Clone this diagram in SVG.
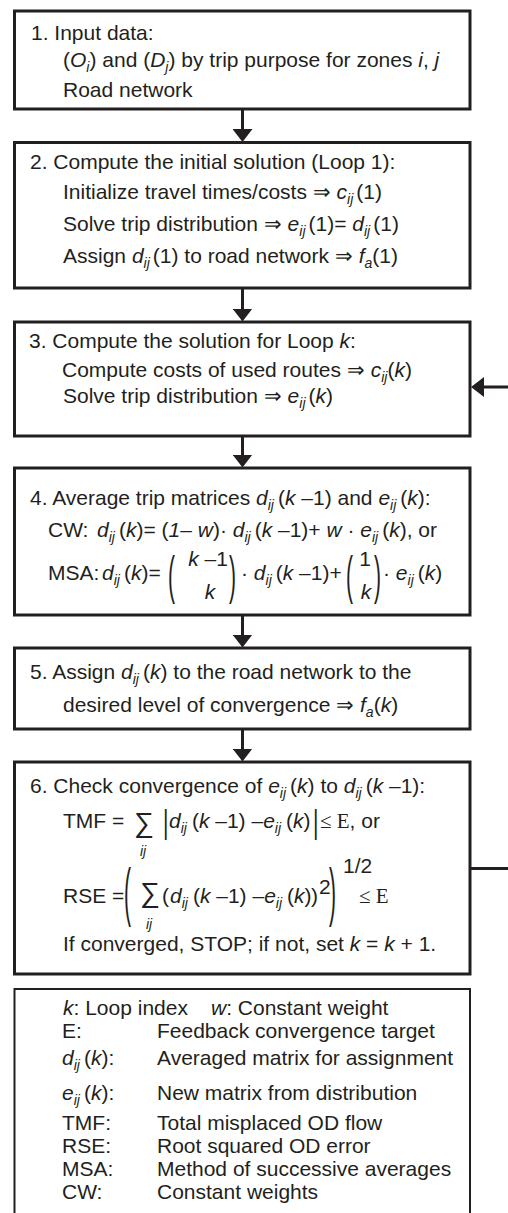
<svg xmlns="http://www.w3.org/2000/svg" width="508" height="1213" viewBox="0 0 508 1213">
<style>
.t{font-family:"Liberation Sans",Arial,sans-serif;font-size:21px;fill:#231f20}
.i{font-style:italic}
.s{font-size:14px;font-style:italic}
.sr{font-family:"Liberation Serif","Times New Roman",serif}
.sg{font-size:28px}
.box{fill:#fff;stroke:#231f20;stroke-width:3}
.leg{fill:#fff;stroke:#231f20;stroke-width:2}
.con{stroke:#231f20;stroke-width:3;fill:none}
</style>
<defs>
<marker id="ah" viewBox="0 0 13 20" refX="7" refY="10" markerWidth="13" markerHeight="20" markerUnits="userSpaceOnUse" orient="auto">
<path d="M0,0 L13,10 L0,20 Z" fill="#231f20"/>
</marker>
</defs>
<rect width="508" height="1213" fill="#fff"/>

<g id="connectors">
<line class="con" x1="242.5" y1="109" x2="242.5" y2="136" marker-end="url(#ah)"/>
<line class="con" x1="242.5" y1="288" x2="242.5" y2="315.5" marker-end="url(#ah)"/>
<line class="con" x1="242.5" y1="436" x2="242.5" y2="461.5" marker-end="url(#ah)"/>
<line class="con" x1="242.5" y1="615" x2="242.5" y2="641.5" marker-end="url(#ah)"/>
<line class="con" x1="242.5" y1="729" x2="242.5" y2="755.5" marker-end="url(#ah)"/>
<line class="con" x1="510" y1="387" x2="477" y2="387" marker-end="url(#ah)"/>
<line class="con" x1="470" y1="868.5" x2="510" y2="868.5"/>
</g>

<g id="node1">
<rect class="box" x="14.5" y="11" width="455.5" height="98"/>
<text class="t" x="31" y="40">1. Input data:</text>
<text class="t" x="63" y="67">(<tspan class="i">O</tspan><tspan class="s" dy="5">i</tspan><tspan dy="-5">) and (</tspan><tspan class="i">D</tspan><tspan class="s" dy="5">j</tspan><tspan dy="-5">) by trip purpose for zones </tspan><tspan class="i">i</tspan>, <tspan class="i">j</tspan></text>
<text class="t" x="63" y="97">Road network</text>
</g>

<g id="node2">
<rect class="box" x="14.5" y="142.5" width="455.5" height="145.5"/>
<text class="t" x="30" y="169">2. Compute the initial solution (Loop 1):</text>
<text class="t" x="63" y="199">Initialize travel times/costs ⇒ <tspan class="i">c</tspan><tspan class="s" dy="5">ij</tspan><tspan dy="-5" dx="3">(1)</tspan></text>
<text class="t" x="63" y="231">Solve trip distribution ⇒ <tspan class="i">e</tspan><tspan class="s" dy="5">ij</tspan><tspan dy="-5" dx="3">(1)= </tspan><tspan class="i">d</tspan><tspan class="s" dy="5">ij</tspan><tspan dy="-5" dx="3">(1)</tspan></text>
<text class="t" x="63" y="263">Assign <tspan class="i">d</tspan><tspan class="s" dy="5">ij</tspan><tspan dy="-5" dx="3">(1) to road network ⇒ </tspan><tspan class="i">f</tspan><tspan class="s" dy="5" font-size="16">a</tspan><tspan dy="-5">(1)</tspan></text>
</g>

<g id="node3">
<rect class="box" x="14.5" y="322" width="455.5" height="114"/>
<text class="t" x="29" y="348">3. Compute the solution for Loop <tspan class="i">k</tspan>:</text>
<text class="t" x="62" y="377">Compute costs of used routes ⇒ <tspan class="i">c</tspan><tspan class="s" dy="5">ij</tspan><tspan dy="-5">(</tspan><tspan class="i">k</tspan>)</text>
<text class="t" x="63" y="403">Solve trip distribution ⇒ <tspan class="i">e</tspan><tspan class="s" dy="5">ij</tspan><tspan dy="-5" dx="3">(</tspan><tspan class="i">k</tspan>)</text>
</g>

<g id="node4">
<rect class="box" x="14.5" y="468" width="455.5" height="147"/>
<text class="t" x="30" y="505">4. Average trip matrices <tspan class="i">d</tspan><tspan class="s" dy="5">ij</tspan><tspan dy="-5" dx="4">(</tspan><tspan class="i">k</tspan> –1) and <tspan class="i">e</tspan><tspan class="s" dy="5">ij</tspan><tspan dy="-5" dx="4">(</tspan><tspan class="i">k</tspan>):</text>
<text class="t" x="48" y="537">CW:<tspan x="97" class="i">d</tspan><tspan class="s" dy="5">ij</tspan><tspan dy="-5" dx="4">(</tspan><tspan class="i">k</tspan>)= (<tspan class="i">1</tspan>– <tspan class="i">w</tspan>)· <tspan class="i">d</tspan><tspan class="s" dy="5">ij</tspan><tspan dy="-5" dx="4">(</tspan><tspan class="i">k</tspan> –1)+ <tspan class="i">w</tspan> · <tspan class="i">e</tspan><tspan class="s" dy="5">ij</tspan><tspan dy="-5" dx="4">(</tspan><tspan class="i">k</tspan>), or</text>
<text class="t" x="48" y="580">MSA:<tspan x="102" class="i">d</tspan><tspan class="s" dy="5">ij</tspan><tspan dy="-5" dx="4">(</tspan><tspan class="i">k</tspan>)=</text>
<text class="t" transform="translate(168,580) scale(1,2.45)" y="5.4">(</text>
<text class="t" x="208" y="566" text-anchor="middle"><tspan class="i">k</tspan> –1</text>
<text class="t i" x="210" y="599" text-anchor="middle">k</text>
<text class="t" transform="translate(229,580) scale(1,2.45)" y="5.4">)</text>
<text class="t" x="241" y="580">· <tspan class="i">d</tspan><tspan class="s" dy="5">ij</tspan><tspan dy="-5" dx="4">(</tspan><tspan class="i">k</tspan> –1)+</text>
<text class="t" transform="translate(346,580) scale(1,2.45)" y="5.4">(</text>
<text class="t" x="365" y="566" text-anchor="middle">1</text>
<text class="t i" x="366" y="599" text-anchor="middle">k</text>
<text class="t" transform="translate(374,580) scale(1,2.45)" y="5.4">)</text>
<text class="t" x="383" y="580">· <tspan class="i">e</tspan><tspan class="s" dy="5">ij</tspan><tspan dy="-5" dx="4">(</tspan><tspan class="i">k</tspan>)</text>
</g>

<g id="node5">
<rect class="box" x="14.5" y="648" width="455.5" height="81"/>
<text class="t" x="30" y="679">5. Assign <tspan class="i">d</tspan><tspan class="s" dy="5">ij</tspan><tspan dy="-5" dx="4">(</tspan><tspan class="i">k</tspan>) to the road network to the</text>
<text class="t" x="63" y="712">desired level of convergence ⇒ <tspan class="i">f</tspan><tspan class="s" dy="5" font-size="16">a</tspan><tspan dy="-5">(</tspan><tspan class="i">k</tspan>)</text>
</g>

<g id="node6">
<rect class="box" x="14.5" y="762" width="455.5" height="212"/>
<text class="t" x="30" y="793">6. Check convergence of <tspan class="i">e</tspan><tspan class="s" dy="5">ij</tspan><tspan dy="-5" dx="4">(</tspan><tspan class="i">k</tspan>) to <tspan class="i">d</tspan><tspan class="s" dy="5">ij</tspan><tspan dy="-5" dx="4">(</tspan><tspan class="i">k</tspan> –1):</text>
<text class="t" x="63" y="828">TMF =</text>
<text class="t sg" x="134" y="832">∑</text>
<text class="t s" x="140" y="856">ij</text>
<text class="t" transform="translate(163,824) scale(1,1.62)" y="5.4">|</text>
<text class="t" x="169" y="828"><tspan class="i">d</tspan><tspan class="s" dy="5">ij</tspan><tspan dy="-5" dx="5">(</tspan><tspan class="i">k</tspan> –1) –<tspan class="i">e</tspan><tspan class="s" dy="5">ij</tspan><tspan dy="-5" dx="5">(</tspan><tspan class="i">k</tspan>)</text>
<text class="t" transform="translate(313,824) scale(1,1.62)" y="5.4">|</text>
<text class="t" x="320" y="828"><tspan class="sr">≤ E</tspan>, or</text>
<text class="t" x="63" y="903">RSE =</text>
<text class="t" transform="translate(124,897.5) scale(1,3.1)" y="5.4">(</text>
<text class="t sg" x="140" y="902">∑</text>
<text class="t s" x="146" y="929">ij</text>
<text class="t" x="162" y="903" font-size="23">(</text>
<text class="t" x="170" y="903"><tspan class="i">d</tspan><tspan class="s" dy="5">ij</tspan><tspan dy="-5" dx="5">(</tspan><tspan class="i">k</tspan> –1) –<tspan class="i">e</tspan><tspan class="s" dy="5">ij</tspan><tspan dy="-5" dx="5">(</tspan><tspan class="i">k</tspan>)</text>
<text class="t" x="311" y="903" font-size="23">)</text>
<text class="t" x="319" y="894" font-size="13">2</text>
<text class="t" transform="translate(329,897.5) scale(1,3.1)" y="5.4">)</text>
<text class="t" x="343" y="873" font-size="14">1/2</text>
<text class="t sr" x="359" y="903">≤ E</text>
<text class="t" x="63" y="951">If converged, STOP; if not, set <tspan class="i">k</tspan> = <tspan class="i">k</tspan> + 1.</text>
</g>

<g id="legend">
<rect class="leg" x="14.5" y="989" width="455.5" height="240"/>
<text class="t" x="63" y="1015"><tspan class="i">k</tspan>: Loop index</text>
<text class="t" x="211" y="1015"><tspan class="i">w</tspan>: Constant weight</text>
<text class="t" x="62" y="1038">E:</text>
<text class="t" x="157" y="1038">Feedback convergence target</text>
<text class="t" x="62" y="1065"><tspan class="i">d</tspan><tspan class="s" dy="5">ij</tspan><tspan dy="-5" dx="4">(</tspan><tspan class="i">k</tspan>):</text>
<text class="t" x="157" y="1065">Averaged matrix for assignment</text>
<text class="t" x="62" y="1100"><tspan class="i">e</tspan><tspan class="s" dy="5">ij</tspan><tspan dy="-5" dx="4">(</tspan><tspan class="i">k</tspan>):</text>
<text class="t" x="157" y="1100">New matrix from distribution</text>
<text class="t" x="62" y="1130">TMF:</text>
<text class="t" x="157" y="1130">Total misplaced OD flow</text>
<text class="t" x="62" y="1153">RSE:</text>
<text class="t" x="157" y="1153">Root squared OD error</text>
<text class="t" x="62" y="1176">MSA:</text>
<text class="t" x="157" y="1176">Method of successive averages</text>
<text class="t" x="62" y="1199">CW:</text>
<text class="t" x="157" y="1199">Constant weights</text>
</g>
</svg>
